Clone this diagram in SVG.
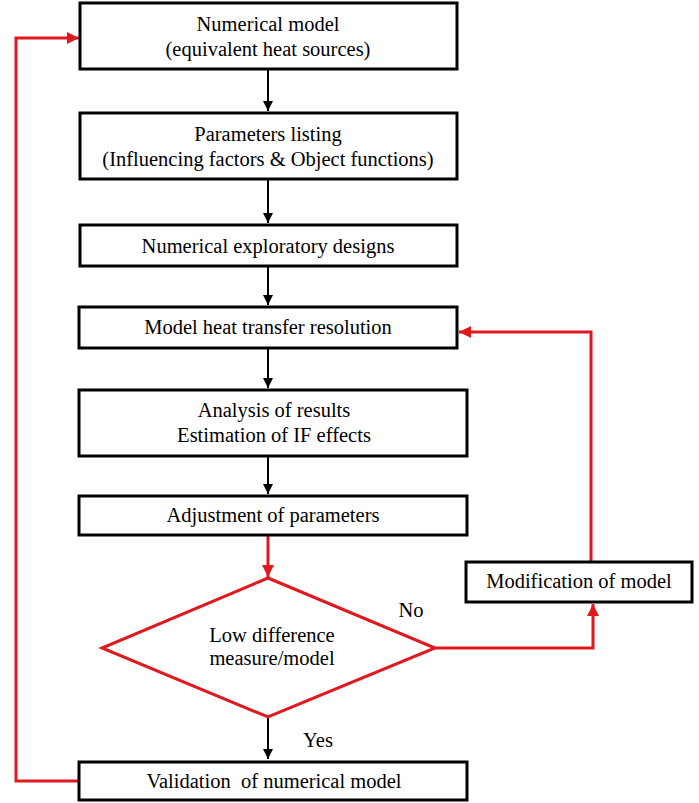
<svg xmlns="http://www.w3.org/2000/svg" width="699" height="803" viewBox="0 0 699 803">
<defs>
<marker id="ab" viewBox="0 0 10 10" refX="10" refY="5" markerWidth="10" markerHeight="12" markerUnits="userSpaceOnUse" orient="auto"><path d="M0,0 L10,5 L0,10 Z" fill="#000"/></marker>
<marker id="ar" viewBox="0 0 10 10" refX="10" refY="5" markerWidth="12" markerHeight="13" markerUnits="userSpaceOnUse" orient="auto"><path d="M0,0 L10,5 L0,10 Z" fill="#e0191f"/></marker>
</defs>
<style>
.box{fill:#fff;stroke:#000;stroke-width:3}
.dia{fill:#fff;stroke:#e0191f;stroke-width:3}
.t{font-family:"Liberation Serif","Times New Roman",serif;font-size:20.5px;fill:#000;text-anchor:middle}
.bl{stroke:#000;stroke-width:2;fill:none}
.rl{stroke:#e0191f;stroke-width:3;fill:none}
</style>
<rect width="699" height="803" fill="#fff"/>
<g id="connectors">
<line class="bl" x1="268" y1="69" x2="268" y2="111" marker-end="url(#ab)"/>
<line class="bl" x1="268" y1="179" x2="268" y2="223" marker-end="url(#ab)"/>
<line class="bl" x1="268" y1="266" x2="268" y2="305" marker-end="url(#ab)"/>
<line class="bl" x1="268" y1="348" x2="268" y2="388" marker-end="url(#ab)"/>
<line class="bl" x1="268" y1="456" x2="268" y2="494" marker-end="url(#ab)"/>
<line class="bl" x1="268" y1="717" x2="268" y2="759" marker-end="url(#ab)"/>
<line class="rl" x1="268" y1="535" x2="268" y2="577" marker-end="url(#ar)"/>
<polyline class="rl" points="435,648 593,648 593,604" marker-end="url(#ar)"/>
<polyline class="rl" points="591,561 591,332 459,332" marker-end="url(#ar)"/>
<polyline class="rl" points="79,781 16,781 16,38 79,38" marker-end="url(#ar)"/>
<text class="t" x="411" y="617">No</text>
<text class="t" x="318" y="747">Yes</text>
</g>
<g id="n1"><rect class="box" x="80" y="3" width="377" height="66"/><text class="t" x="268" y="31">Numerical model</text><text class="t" x="268" y="56">(equivalent heat sources)</text></g>
<g id="n2"><rect class="box" x="80" y="113" width="377" height="66"/><text class="t" x="268" y="141">Parameters listing</text><text class="t" x="268" y="166">(Influencing factors &amp; Object functions)</text></g>
<g id="n3"><rect class="box" x="80" y="225" width="377" height="41"/><text class="t" x="268" y="253">Numerical exploratory designs</text></g>
<g id="n4"><rect class="box" x="79" y="307" width="378" height="41"/><text class="t" x="268" y="334">Model heat transfer resolution</text></g>
<g id="n5"><rect class="box" x="79" y="390" width="388" height="66"/><text class="t" x="274" y="417">Analysis of results</text><text class="t" x="274" y="442">Estimation of IF effects</text></g>
<g id="n6"><rect class="box" x="79" y="496" width="388" height="39"/><text class="t" x="273" y="522">Adjustment of parameters</text></g>
<g id="d1"><polygon class="dia" points="268,578 435,648 268,717 102,648"/><text class="t" x="272" y="642">Low difference</text><text class="t" x="272" y="665">measure/model</text></g>
<g id="n7"><rect class="box" x="79" y="762" width="388" height="38"/><text class="t" x="274" y="788" xml:space="preserve">Validation  of numerical model</text></g>
<g id="n8"><rect class="box" x="466" y="562" width="226" height="40"/><text class="t" x="579" y="588">Modification of model</text></g>
</svg>
